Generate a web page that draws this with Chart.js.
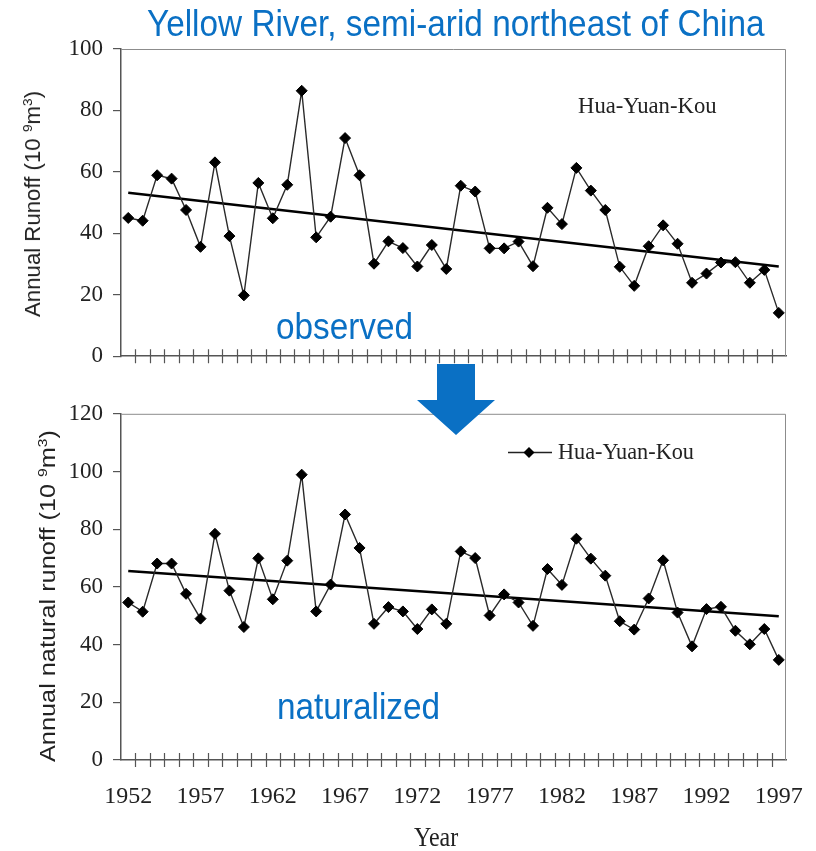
<!DOCTYPE html>
<html>
<head>
<meta charset="utf-8">
<script src="https://cdn.jsdelivr.net/npm/chart.js@4.4.0/dist/chart.umd.min.js"></script>
<style>
  html, body { margin: 0; padding: 0; background: #fff; }
  body { width: 816px; height: 851px; position: relative; overflow: hidden; }
  canvas { position: absolute; left: 0; }
  #c1 { top: 0; }
  #c2 { top: 390px; }
  .t { position: absolute; white-space: nowrap; line-height: 1; }
  .blue { font-family: "Liberation Sans", Arial, sans-serif; font-size: 33px; color: #0A70C4; transform-origin: left top; transform: scale(1.01, 1.1); }
  .serif { font-family: "Liberation Serif", "Times New Roman", serif; color: #222; }
  .ytitle { font-family: "Liberation Sans", Arial, sans-serif; font-size: 22px; color: #222; }
  .ytitle sup { font-size: 0.62em; vertical-align: 0.62em; line-height: 0; }
  svg { position: absolute; left: 0; top: 0; }
</style>
</head>
<body>
<canvas id="c1" width="840" height="380"></canvas>
<canvas id="c2" width="840" height="461"></canvas>

<div class="t blue" style="left:147px; top:5px;">Yellow River, semi-arid northeast of China</div>
<div class="t blue" style="left:276px; top:308px;">observed</div>
<div class="t blue" style="left:277px; top:688px;">naturalized</div>

<div class="t serif" style="left:578px; top:94px; font-size:21px; transform-origin:left top; transform:scale(1.08,1.12);">Hua-Yuan-Kou</div>
<div class="t serif" style="left:558px; top:440px; font-size:21px; transform-origin:left top; transform:scale(1.06,1.12);">Hua-Yuan-Kou</div>
<div class="t serif" style="left:414px; top:824px; font-size:24px; transform-origin:left top; transform:scaleY(1.1);">Year</div>

<div class="t ytitle" style="left:33px; top:204px; transform:translate(-50%,-50%) rotate(-90deg) scaleX(1.01);">Annual Runoff (10 <sup>9</sup>m<sup>3</sup>)</div>
<div class="t ytitle" style="left:48px; top:596px; transform:translate(-50%,-50%) rotate(-90deg) scaleX(1.15);">Annual natural runoff (10 <sup>9</sup>m<sup>3</sup>)</div>

<svg width="816" height="851">
  <polygon points="437,364 475,364 475,400 495,400 456,435 417,400 437,400" fill="#0A70C4"/>
  <line x1="508" y1="452.5" x2="552" y2="452.5" stroke="#222" stroke-width="1.5"/>
  <polygon points="529,447 534.5,452.5 529,458 523.5,452.5" fill="#000"/>
</svg>

<script>
// ---- data ----
const years = ['1952','1953','1954','1955','1956','1957','1958','1959','1960','1961','1962','1963','1964','1965','1966','1967','1968','1969','1970','1971','1972','1973','1974','1975','1976','1977','1978','1979','1980','1981','1982','1983','1984','1985','1986','1987','1988','1989','1990','1991','1992','1993','1994','1995','1996','1997'];
const tickYears = ['1952','1957','1962','1967','1972','1977','1982','1987','1992','1997'];
const observedRunoff = [45.0,44.1,58.9,57.8,47.6,35.6,63.1,39.1,19.8,56.4,44.9,55.8,86.4,38.7,45.4,71.0,58.9,30.1,37.4,35.2,29.2,36.2,28.4,
                        55.5,53.6,35.1,35.1,37.3,29.3,48.3,43.0,61.3,53.9,47.6,29.1,22.9,35.8,42.6,36.6,23.9,26.9,30.5,30.6,23.9,28.1,14.1];
const naturalRunoff  = [54.6,51.4,68.1,68.1,57.6,49.0,78.4,58.7,46.1,69.9,55.7,69.1,98.9,51.5,60.8,85.1,73.5,47.2,53.0,51.5,45.4,52.2,47.2,
                        72.3,70.0,50.1,57.4,54.6,46.5,66.2,60.7,76.7,69.8,63.9,48.1,45.2,56.0,69.2,51.1,39.4,52.3,53.1,44.8,40.1,45.4,34.7];
const observedTrend = [53.2, 29.2];   // trend at first and last year
const naturalTrend  = [65.5, 49.8];
const observedYTicks = { min: 0, max: 100, step: 20 };
const naturalYTicks  = { min: 0, max: 120, step: 20 };

// ---- helpers ----
function trendSeries(endpoints) {
  return years.map((y, i) => i === 0 ? endpoints[0] : (i === years.length - 1 ? endpoints[1] : null));
}

const framePlugin = {
  id: 'frame',
  beforeDatasetsDraw(chart) {
    const { ctx, chartArea: a, scales: { x } } = chart;
    ctx.save();
    ctx.strokeStyle = '#8c8c8c';
    ctx.lineWidth = 1;
    ctx.beginPath();
    ctx.moveTo(a.left, a.top + 0.5);
    ctx.lineTo(a.right - 0.5, a.top + 0.5);
    ctx.lineTo(a.right - 0.5, a.bottom);
    ctx.stroke();
    ctx.strokeStyle = '#555';
    ctx.lineWidth = 1.2;
    ctx.beginPath();
    for (let i = 1; i < years.length; i++) {
      const px = Math.round((x.getPixelForValue(i - 1) + x.getPixelForValue(i)) / 2) + 0.5;
      ctx.moveTo(px, a.bottom - 7);
      ctx.lineTo(px, a.bottom + 7);
    }
    ctx.stroke();
    ctx.restore();
  }
};

Chart.defaults.font.family = '"Liberation Serif", "Times New Roman", serif';
Chart.defaults.color = '#222';

function makeChart(id, values, trend, yt, opts) {
  return new Chart(document.getElementById(id), {
    type: 'line',
    data: {
      labels: years,
      datasets: [
        {
          data: values,
          borderColor: '#2a2a2a',
          borderWidth: 1.4,
          pointStyle: 'rectRot',
          pointRadius: 5.5,
          pointHoverRadius: 5.5,
          pointBackgroundColor: '#000',
          pointBorderColor: '#000',
          pointBorderWidth: 1,
          tension: 0,
          fill: false
        },
        {
          data: trendSeries(trend),
          borderColor: '#000',
          borderWidth: 2.6,
          pointRadius: 0,
          spanGaps: true,
          tension: 0,
          fill: false
        }
      ]
    },
    options: {
      responsive: false,
      animation: false,
      events: [],
      layout: { padding: { top: opts.padTop, right: 54, left: 0, bottom: 0 } },
      plugins: { legend: { display: false }, tooltip: { enabled: false } },
      scales: {
        x: {
          type: 'category',
          offset: true,
          afterFit: s => { s.height = opts.xHeight; },
          grid: { display: true, drawOnChartArea: false, drawTicks: false, color: '#555' },
          border: { display: true, color: '#555', width: 1.5 },
          ticks: {
            display: opts.showX,
            autoSkip: false,
            maxRotation: 0,
            padding: 22,
            font: { size: 24 },
            color: '#222',
            callback: function (v) { const l = this.getLabelForValue(v); return tickYears.includes(l) ? l : ''; }
          }
        },
        y: {
          min: yt.min,
          max: yt.max,
          afterFit: s => { s.width = 121; },
          grid: { drawOnChartArea: false, drawTicks: true, tickLength: 8, color: '#555', lineWidth: 1.2 },
          border: { display: true, color: '#555', width: 1.5 },
          ticks: { stepSize: yt.step, padding: 10, font: { size: 23 }, color: '#222' }
        }
      }
    },
    plugins: [framePlugin]
  });
}

makeChart('c1', observedRunoff, observedTrend, observedYTicks, { padTop: 49, xHeight: 16, showX: false });
makeChart('c2', naturalRunoff, naturalTrend, naturalYTicks, { padTop: 22.7, xHeight: 91, showX: true });
</script>
</body>
</html>
